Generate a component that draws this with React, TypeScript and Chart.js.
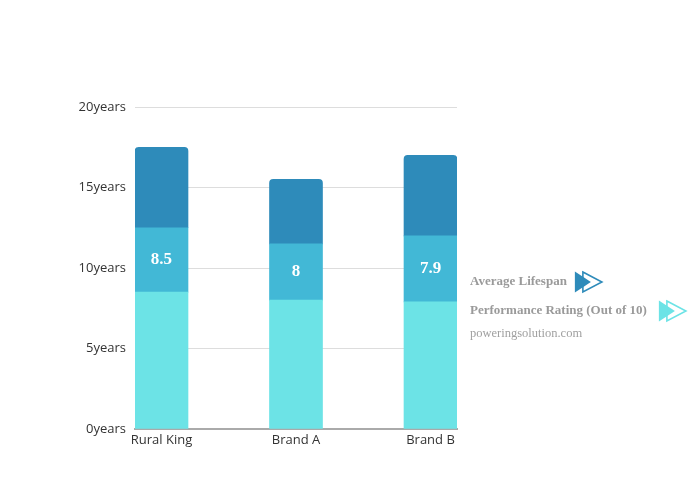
import React, { useEffect, useRef } from 'react';
import { Chart, registerables } from 'chart.js';

Chart.register(...registerables);

const categories = ['Rural King', 'Brand A', 'Brand B'];
const performanceRating = [8.5, 8, 7.9];
const lifespanMiddle = [4, 3.5, 4.1];
const lifespanUpper = [5, 4, 5];
const yTickStep = 5;
const yMax = 20;
const legendLabels = ['Average Lifespan', 'Performance Rating (Out of 10)'];
const sourceText = 'poweringsolution.com';

const COLOR_BOTTOM = '#6CE3E6';
const COLOR_MIDDLE = '#42B8D6';
const COLOR_TOP = '#2E8BBA';

const toPoints = (arr: number[]) => arr.map((v, i) => ({ x: i, y: v }));

const valueLabelPlugin = {
  id: 'valueLabels',
  afterDatasetsDraw(chart: any) {
    const ctx = chart.ctx;
    const meta = chart.getDatasetMeta(1);
    ctx.save();
    ctx.fillStyle = '#ffffff';
    ctx.font = 'bold 17px "Liberation Serif"';
    ctx.textAlign = 'center';
    ctx.textBaseline = 'middle';
    meta.data.forEach((bar: any, i: number) => {
      const y = (bar.y + bar.base) / 2;
      ctx.fillText(String(performanceRating[i]), bar.x, y);
    });
    ctx.restore();
  },
};

function drawArrows(ctx: CanvasRenderingContext2D, x: number, y: number, color: string) {
  ctx.fillStyle = color;
  ctx.beginPath();
  ctx.moveTo(x, y - 10.5);
  ctx.lineTo(x + 16, y);
  ctx.lineTo(x, y + 10.5);
  ctx.closePath();
  ctx.fill();
  ctx.strokeStyle = color;
  ctx.lineWidth = 1.6;
  ctx.beginPath();
  ctx.moveTo(x + 8, y - 10);
  ctx.lineTo(x + 27, y);
  ctx.lineTo(x + 8, y + 10);
  ctx.closePath();
  ctx.stroke();
}

const legendPlugin = {
  id: 'customLegend',
  afterDraw(chart: any) {
    const ctx = chart.ctx as CanvasRenderingContext2D;
    ctx.save();
    ctx.fillStyle = '#9a9a9a';
    ctx.textAlign = 'left';
    ctx.textBaseline = 'middle';
    ctx.font = 'bold 13px "Liberation Serif"';
    ctx.fillText(legendLabels[0], 470, 282);
    const w0 = ctx.measureText(legendLabels[0]).width;
    ctx.fillText(legendLabels[1], 470, 311);
    const w1 = ctx.measureText(legendLabels[1]).width;
    ctx.font = '12.5px "Liberation Serif"';
    ctx.fillStyle = '#a0a0a0';
    ctx.fillText(sourceText, 470, 334);
    drawArrows(ctx, 470 + w0 + 8, 282, COLOR_TOP);
    drawArrows(ctx, 470 + w1 + 12, 311, COLOR_BOTTOM);
    ctx.restore();
  },
};

export default function App() {
  const canvasRef = useRef<HTMLCanvasElement | null>(null);

  useEffect(() => {
    if (!canvasRef.current) return;
    const chart = new Chart(canvasRef.current, {
      type: 'bar',
      data: {
        datasets: [
          {
            label: legendLabels[1],
            data: toPoints(performanceRating),
            backgroundColor: COLOR_BOTTOM,
            barThickness: 53,
            borderRadius: 0,
          },
          {
            label: 'Lifespan (middle)',
            data: toPoints(lifespanMiddle),
            backgroundColor: COLOR_MIDDLE,
            barThickness: 53,
            borderRadius: 0,
          },
          {
            label: legendLabels[0],
            data: toPoints(lifespanUpper),
            backgroundColor: COLOR_TOP,
            barThickness: 53,
            borderRadius: { topLeft: 4, topRight: 4, bottomLeft: 0, bottomRight: 0 },
            borderSkipped: false,
          },
        ] as any,
      },
      options: {
        animation: false,
        responsive: false,
        layout: { padding: { left: 0, right: 243, top: 107, bottom: 0 } },
        plugins: {
          legend: { display: false },
          tooltip: { enabled: false },
        },
        scales: {
          x: {
            type: 'linear',
            stacked: true,
            offset: false,
            min: -0.197,
            max: 2.197,
            afterFit: (s: any) => {
              s.height = 71;
            },
            grid: { display: false, drawTicks: false, offset: false },
            border: { display: true, color: '#aaaaaa', width: 2 },
            ticks: {
              stepSize: 1,
              includeBounds: false,
              autoSkip: false,
              maxRotation: 0,
              padding: 3,
              color: '#333333',
              font: { family: '"Open Sans"', size: 13 },
              callback: (v: any) => (Number.isInteger(v) && categories[v] ? categories[v] : ''),
            },
          },
          y: {
            stacked: true,
            min: 0,
            max: yMax,
            afterFit: (s: any) => {
              s.width = 135;
            },
            grid: { color: '#dddddd', lineWidth: 1, drawTicks: false },
            border: { display: false },
            ticks: {
              stepSize: yTickStep,
              padding: 9,
              color: '#333333',
              font: { family: '"Open Sans"', size: 13 },
              callback: (v: any) => `${v}years`,
            },
          },
        },
      } as any,
      plugins: [valueLabelPlugin, legendPlugin],
    });
    return () => chart.destroy();
  }, []);

  return (
    <div style={{ position: 'absolute', left: 0, top: 0, width: 700, height: 500, background: '#ffffff' }}>
      <canvas ref={canvasRef} width={700} height={500} />
    </div>
  );
}
